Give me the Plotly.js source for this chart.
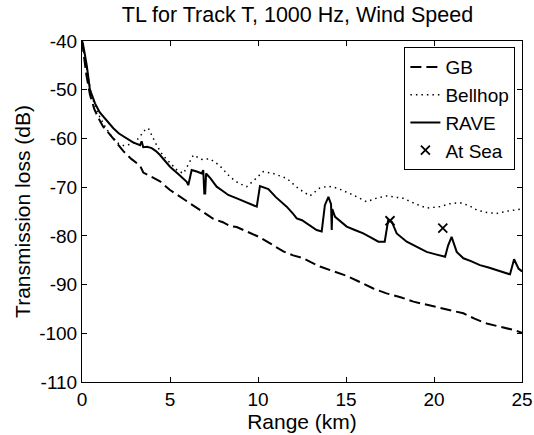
<!DOCTYPE html>
<html>
<head>
<meta charset="utf-8">
<script src="https://cdn.plot.ly/plotly-3.0.1.min.js"></script>
<style>html,body{margin:0;padding:0;background:#fff;}#chart{width:534px;height:435px;}</style>
</head>
<body>
<div id="chart"></div>
<script>
// Range (km) and transmission loss (dB)
const gbRange = [0,0.1,0.25,0.45,0.7,0.93,1.2,1.59,2.06,2.35,2.8,3.3,3.48,3.9,4.43,5.0,5.5,6.0,6.7,7.08,7.46,8.0,8.41,8.79,9.5,10.11,10.8,11.44,12.0,12.57,13.0,13.52,14.3,15.04,15.8,16.55,17.3,18.1,18.83,19.96,20.8,21.67,22.3,23.0,23.8,24.5,25];
const gbTL = [-40,-43,-47,-51,-54,-55.8,-57.6,-59.2,-61.4,-62.6,-64.2,-65.6,-67.0,-67.8,-68.8,-70.6,-71.8,-73.0,-74.5,-75.5,-76.5,-77.2,-78.0,-78.2,-79.3,-80.3,-81.8,-83.2,-84.0,-84.6,-85.4,-86.3,-87.3,-88.2,-89.5,-90.8,-91.8,-92.6,-93.5,-94.5,-95.2,-95.9,-97.0,-98.0,-98.7,-99.3,-99.9];

const bellhopRange = [0,0.15,0.3,0.5,0.75,1.0,1.3,1.6,2.06,2.4,2.73,3.0,3.3,3.5,3.77,4.05,4.24,4.6,5.0,5.4,5.76,6.0,6.33,6.8,7.27,7.8,8.41,8.9,9.36,9.8,10.3,10.87,11.63,12.3,12.95,13.5,14.0,14.5,15.4,16.17,16.7,17.3,18.26,19.0,19.58,20.34,20.9,21.48,22.0,22.43,23.0,23.56,24.2,25];
const bellhopTL = [-40,-43,-46.5,-50.5,-53.5,-55.5,-57.5,-59.2,-61.0,-61.5,-61.2,-60.8,-59.6,-58.5,-57.9,-59.9,-61.4,-63.5,-65.1,-66.5,-67.2,-65.5,-63.4,-64.3,-64.2,-65.5,-67.9,-69.2,-69.9,-68.5,-66.8,-67.2,-68.2,-70.3,-71.8,-70.2,-69.8,-70.2,-71.6,-73.0,-72.3,-71.8,-72.3,-73.5,-74.3,-74.0,-73.4,-73.2,-73.8,-74.7,-75.2,-75.4,-74.9,-74.5];

const raveRange = [0,0.05,0.15,0.27,0.45,0.74,1.0,1.21,1.5,1.78,2.1,2.54,2.9,3.3,3.39,3.48,3.7,3.96,4.2,4.43,4.7,5.0,5.5,5.95,6.04,6.23,6.52,6.8,6.89,6.95,7.0,7.05,7.3,7.65,8.0,8.31,8.8,9.4,9.93,10.11,10.4,10.59,11.0,11.3,11.63,12.0,12.2,12.5,12.77,13.0,13.33,13.62,13.8,14.0,14.15,14.19,14.22,14.38,15.04,15.5,15.98,16.4,16.84,17.2,17.4,17.6,17.88,18.45,19.0,19.58,20.1,20.63,20.8,21.0,21.29,21.67,22.1,22.61,23.1,23.56,24.0,24.32,24.55,24.8,25];
const raveTL = [-40,-40.5,-42.5,-45,-50,-52.8,-54.6,-55.5,-56.8,-57.9,-59.0,-60,-60.8,-61.4,-60.6,-61.8,-61.7,-62,-62.6,-63.4,-64.5,-65.8,-67.4,-68.9,-69.6,-66.5,-66.8,-67.2,-66.5,-71.3,-71.3,-67.2,-68.2,-69.9,-70.8,-71.6,-72.3,-73.2,-74.0,-69.8,-70.2,-70.4,-72.0,-73.0,-74.0,-75.5,-76.4,-76.8,-77.4,-78.0,-78.8,-79.1,-73.7,-72.0,-73.5,-78.8,-74.5,-76.1,-78.1,-78.8,-79.5,-80.3,-81.2,-81.2,-76.7,-77.1,-79.5,-81.2,-82.3,-83.3,-83.8,-84.3,-82,-80.2,-83.3,-84.6,-85.2,-86.0,-86.5,-87.0,-87.5,-87.9,-84.8,-86.7,-87.3];

const seaRange = [17.5, 20.5];
const seaTL = [-76.9, -78.4];

const xTicks = [0,5,10,15,20,25];
const yTicks = [-110,-100,-90,-80,-70,-60,-50,-40];

const FONT = 'Liberation Sans, Arial, sans-serif';

const traces = [
  {x: gbRange, y: gbTL, name: 'GB', mode: 'lines', line: {color: '#000', width: 2, dash: '11px,5px'}},
  {x: bellhopRange, y: bellhopTL, name: 'Bellhop', mode: 'lines', line: {color: '#000', width: 1.5, dash: '1.5px,4px'}},
  {x: raveRange, y: raveTL, name: 'RAVE', mode: 'lines', line: {color: '#000', width: 2}},
  {x: seaRange, y: seaTL, name: 'At Sea', mode: 'markers', marker: {symbol: 'x-thin-open', size: 9, color: '#000', line: {color: '#000', width: 1.8}}}
];

const axisCommon = {
  showline: true, linecolor: '#000', linewidth: 1, mirror: 'ticks',
  ticks: 'inside', ticklen: 5, tickcolor: '#000', showgrid: false, zeroline: false,
  tickfont: {family: FONT, size: 19, color: '#000'}
};

const layout = {
  width: 534, height: 435,
  margin: {l: 82, r: 12, t: 41, b: 53},
  paper_bgcolor: '#fff', plot_bgcolor: '#fff',
  font: {family: FONT, color: '#000'},
  title: {text: 'TL for Track T, 1000 Hz, Wind Speed', font: {family: FONT, size: 21.5, color: '#000'}, x: 0.557, xanchor: 'center', y: 0.985, yanchor: 'top'},
  xaxis: Object.assign({}, axisCommon, {range: [0, 25], tickvals: xTicks, ticktext: xTicks.map(String),
    title: {text: 'Range (km)', font: {family: FONT, size: 21, color: '#000'}, standoff: 0}}),
  yaxis: Object.assign({}, axisCommon, {range: [-110, -40], tickvals: yTicks, ticktext: yTicks.map(String),
    title: {text: 'Transmission loss (dB)', font: {family: FONT, size: 21, color: '#000'}, standoff: 2}}),
  showlegend: true,
  legend: {x: 0.985, xanchor: 'right', y: 0.982, yanchor: 'top', bgcolor: '#fff', bordercolor: '#000', borderwidth: 1,
    font: {family: FONT, size: 19, color: '#000'}, tracegroupgap: 0, itemwidth: 30}
};

Plotly.newPlot('chart', traces, layout, {staticPlot: true, displayModeBar: false});
</script>
</body>
</html>
